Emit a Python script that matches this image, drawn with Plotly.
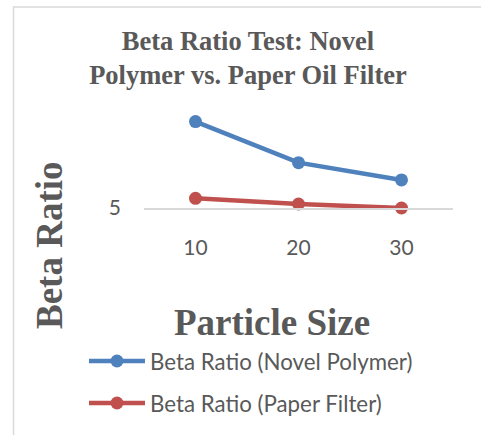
import plotly.graph_objects as go

# Data
particle_sizes = ["10", "20", "30"]
novel_polymer = [85, 47, 31]
paper_filter = [14, 8.7, 5]
y_ticks = [5]
y_range = [5, 105]

W, H = 481, 435
L, R, T, B = 144, 28, 100, 227
PW, PH = W - L - R, H - T - B

def px(x):
    return (x - L) / PW

def py(y):
    return (H - B - y) / PH

GREY = "#595959"
SERIF = "Liberation Serif, Times New Roman, serif"
SANS = "Lato, Calibri, sans-serif"
BLUE = "#4f81bd"
RED = "#c0504d"

fig = go.Figure()
fig.add_trace(go.Scatter(
    x=particle_sizes, y=novel_polymer, name="Beta Ratio (Novel Polymer)",
    mode="lines+markers", line=dict(color=BLUE, width=4.5),
    marker=dict(color=BLUE, size=13), cliponaxis=False, legendgroup="a",
))
fig.add_trace(go.Scatter(
    x=particle_sizes, y=paper_filter, name="Beta Ratio (Paper Filter)",
    mode="lines+markers", line=dict(color=RED, width=4.5),
    marker=dict(color=RED, size=13), cliponaxis=False, legendgroup="b",
))

fig.update_layout(
    width=W, height=H,
    margin=dict(l=L, r=R, t=T, b=B, autoexpand=False),
    paper_bgcolor="white", plot_bgcolor="white",
    font=dict(family=SANS, color=GREY, size=21),
    title=dict(
        text="<b>Beta Ratio Test: Novel<br>Polymer vs. Paper Oil Filter</b>",
        font=dict(family=SERIF, size=26.5, color=GREY),
        xref="paper", x=px(248), xanchor="center",
        yref="container", y=1 - 50 / H, yanchor="top",
    ),
    xaxis=dict(
        type="category", range=[-0.5, 2.5], showgrid=False,
        showline=True, linecolor="#d9d9d9", linewidth=1.5,
        ticks="", ticklabelstandoff=20,
        tickfont=dict(family=SANS, size=21, color=GREY),
    ),
    yaxis=dict(
        range=y_range, tickvals=y_ticks, showgrid=False, zeroline=False,
        ticks="", ticklabelstandoff=22, showline=False,
        tickfont=dict(family=SANS, size=21, color=GREY),
    ),
    showlegend=True,
    legend=dict(
        orientation="v", xref="paper", x=px(84), xanchor="left",
        yref="paper", y=py(340), yanchor="top",
        traceorder="grouped", tracegroupgap=10, itemwidth=56,
        font=dict(family=SANS, size=22.3, color=GREY),
        bgcolor="rgba(0,0,0,0)",
    ),
    annotations=[
        dict(text="<b>Particle Size</b>", xref="paper", yref="paper",
             x=px(271.5), y=py(322), xanchor="center", yanchor="middle",
             showarrow=False, font=dict(family=SERIF, size=37, color=GREY)),
        dict(text="<b>Beta Ratio</b>", xref="paper", yref="paper",
             x=px(49), y=py(245), xanchor="center", yanchor="middle",
             textangle=-90, showarrow=False,
             font=dict(family=SERIF, size=37, color=GREY)),
    ],
    shapes=[
        dict(type="rect", xref="paper", yref="paper",
             x0=px(13.5), x1=px(W + 10), y0=py(7), y1=py(H + 10),
             line=dict(color="#d9d9d9", width=1.5), layer="below"),
    ],
)

fig.write_html("out.html")
